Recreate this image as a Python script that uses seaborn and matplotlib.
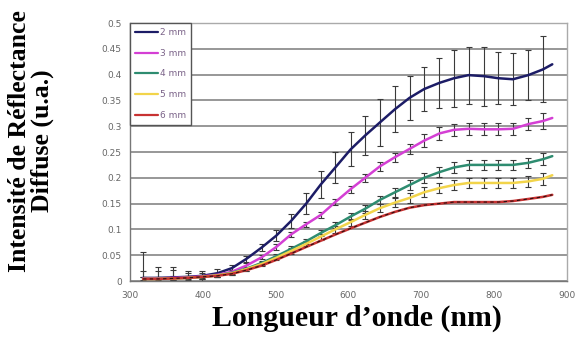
import numpy as np
import pandas as pd
import matplotlib
matplotlib.use("Agg")
import matplotlib.pyplot as plt
import seaborn as sns

# ---- data ----
wavelength = [318, 338, 359, 379, 399, 420, 440, 460, 481, 501, 521, 542, 562, 582,
              603, 623, 643, 664, 684, 704, 725, 745, 765, 786, 806, 826, 847, 867, 880]

mm2 = [0.006, 0.006, 0.007, 0.008, 0.010, 0.015, 0.025, 0.043, 0.065, 0.088, 0.116, 0.150,
       0.187, 0.220, 0.255, 0.282, 0.307, 0.333, 0.355, 0.372, 0.384, 0.393, 0.399, 0.397,
       0.393, 0.391, 0.399, 0.410, 0.420]
mm2_err = [0.050, 0.022, 0.020, 0.012, 0.010, 0.008, 0.006, 0.006, 0.007, 0.010, 0.014, 0.020,
           0.026, 0.030, 0.033, 0.038, 0.046, 0.045, 0.042, 0.042, 0.048, 0.055, 0.055, 0.057,
           0.050, 0.050, 0.048, 0.064, np.nan]

mm3 = [0.005, 0.005, 0.006, 0.007, 0.009, 0.012, 0.018, 0.030, 0.046, 0.066, 0.090, 0.110,
       0.128, 0.153, 0.178, 0.200, 0.222, 0.240, 0.256, 0.272, 0.286, 0.293, 0.295, 0.294,
       0.294, 0.295, 0.304, 0.310, 0.316]
mm3_err = [0.015, 0.015, 0.015, 0.008, 0.006, 0.004, 0.004, 0.004, 0.004, 0.005, 0.005, 0.005,
           0.006, 0.006, 0.007, 0.008, 0.008, 0.009, 0.010, 0.012, 0.012, 0.012, 0.012, 0.012,
           0.012, 0.012, 0.012, 0.015, np.nan]

mm4 = [0.004, 0.004, 0.005, 0.006, 0.008, 0.011, 0.016, 0.024, 0.035, 0.048, 0.062, 0.077,
       0.093, 0.108, 0.125, 0.140, 0.157, 0.172, 0.186, 0.200, 0.211, 0.220, 0.225, 0.225,
       0.225, 0.225, 0.229, 0.236, 0.242]
mm4_err = [0.004, 0.004, 0.004, 0.004, 0.004, 0.004, 0.004, 0.004, 0.004, 0.004, 0.005, 0.005,
           0.006, 0.006, 0.007, 0.008, 0.008, 0.009, 0.010, 0.010, 0.010, 0.010, 0.010, 0.010,
           0.010, 0.010, 0.010, 0.012, np.nan]

mm5 = [0.004, 0.004, 0.005, 0.006, 0.008, 0.011, 0.015, 0.023, 0.033, 0.045, 0.058, 0.072,
       0.086, 0.100, 0.114, 0.128, 0.141, 0.152, 0.161, 0.172, 0.180, 0.186, 0.190, 0.190,
       0.190, 0.190, 0.193, 0.198, 0.205]
mm5_err = [0.003, 0.003, 0.003, 0.003, 0.003, 0.003, 0.003, 0.003, 0.004, 0.004, 0.005, 0.005,
           0.006, 0.006, 0.007, 0.008, 0.008, 0.009, 0.010, 0.010, 0.010, 0.010, 0.010, 0.010,
           0.010, 0.010, 0.010, 0.012, np.nan]

mm6 = [0.004, 0.004, 0.005, 0.006, 0.008, 0.010, 0.014, 0.021, 0.030, 0.041, 0.053, 0.066,
       0.078, 0.090, 0.102, 0.113, 0.124, 0.134, 0.142, 0.147, 0.150, 0.153, 0.153, 0.153,
       0.153, 0.155, 0.159, 0.163, 0.167]

series_names = ["2 mm", "3 mm", "4 mm", "5 mm", "6 mm"]
series_vals = [mm2, mm3, mm4, mm5, mm6]
series_errs = [mm2_err, mm3_err, mm4_err, mm5_err, None]
colors = ["#1c1c66", "#d43fd4", "#2e8c70", "#f2d44a", "#c83232"]

y_ticks = [0, 0.05, 0.1, 0.15, 0.2, 0.25, 0.3, 0.35, 0.4, 0.45, 0.5]
y_tick_labels = ["0", "0.05", "0.1", "0.15", "0.2", "0.25", "0.3", "0.35", "0.4", "0.45", "0.5"]
x_ticks = [300, 400, 500, 600, 700, 800, 900]

x_title = "Longueur d\u2019onde (nm)"
y_title = "Intensit\u00e9 de R\u00e9flectance\nDiffuse (u.a.)"

# ---- build long table ----
rows = []
for name, vals in zip(series_names, series_vals):
    for w, v in zip(wavelength, vals):
        rows.append({"wavelength": w, "value": v, "serie": name})
df = pd.DataFrame(rows)

sns.set_theme(style="white")
fig = plt.figure(figsize=(5.79, 3.45), dpi=100)
ax = fig.add_axes([0.2245, 0.1855, 0.7545, 0.7478])

# error bars first (behind lines)
for name, vals, errs in zip(series_names, series_vals, series_errs):
    if errs is None:
        continue
    ax.errorbar(wavelength, vals, yerr=errs, fmt="none", ecolor="#3a3a3a",
                elinewidth=0.8, capsize=2.2, capthick=0.8, zorder=2)

sns.lineplot(data=df, x="wavelength", y="value", hue="serie", palette=colors,
             hue_order=series_names, linewidth=1.8, ax=ax, zorder=3)
# dashed dark overlay on red curve (as seen in reference)
ax.plot(wavelength, mm6, color="#2a1010", lw=0.8, ls=(0, (3, 3)), zorder=4)

ax.set_xlim(300, 900)
ax.set_ylim(0, 0.5)
ax.set_xticks(x_ticks)
ax.set_xticklabels([str(t) for t in x_ticks])
ax.set_yticks(y_ticks)
ax.set_yticklabels(y_tick_labels)
ax.tick_params(axis="both", labelsize=6.5, labelcolor="#666666", length=3,
               direction="out", color="#666666", width=0.8, pad=3)
ax.tick_params(axis="x", pad=4)
ax.yaxis.grid(True, color="#7a7a7a", lw=1.1)
ax.xaxis.grid(False)
for s in ax.spines.values():
    s.set_color("#aaaaaa")
    s.set_linewidth(1.0)
ax.spines["left"].set_color("#777777")
ax.spines["bottom"].set_color("#777777")
ax.set_xlabel("")
ax.set_ylabel("")

fig.text(0.617, 0.076, x_title, family="Liberation Serif", fontweight="bold",
         fontsize=21.5, color="black", ha="center", va="center")
fig.text(0.054, 0.591, y_title, family="Liberation Serif", fontweight="bold",
         fontsize=18.5, color="black", ha="center", va="center", rotation=90,
         multialignment="center", linespacing=1.0)

leg = ax.legend(loc="upper left", frameon=True, fontsize=6.5, handlelength=2.6,
                borderpad=0.55, labelspacing=1.3, handletextpad=0.2,
                borderaxespad=0.0, fancybox=False)
leg.get_frame().set_edgecolor("#555555")
leg.get_frame().set_linewidth(1.0)
leg.get_frame().set_alpha(1.0)
for t in leg.get_texts():
    t.set_color("#7a6288")
for l in leg.get_lines():
    l.set_linewidth(1.6)

fig.savefig("out.png", dpi=100, facecolor="white")
